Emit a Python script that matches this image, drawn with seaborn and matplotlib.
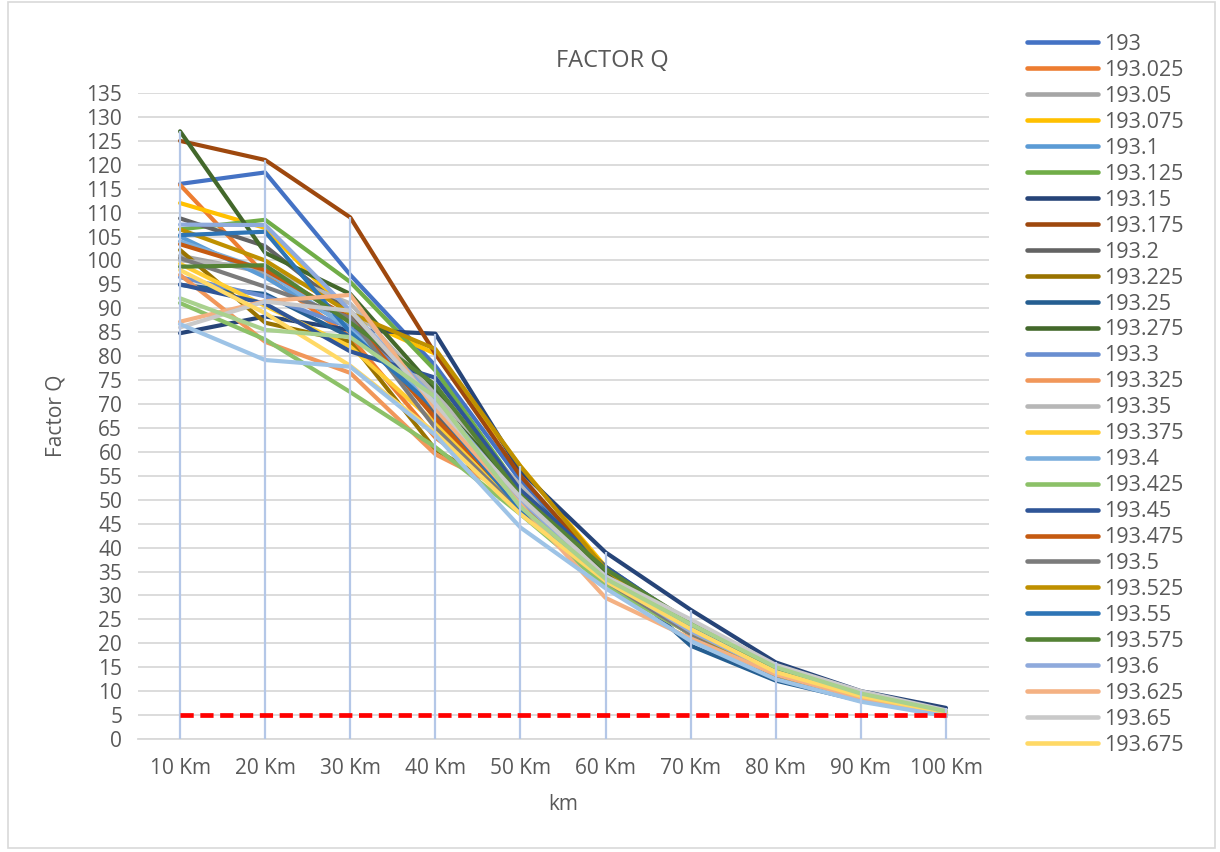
import matplotlib
matplotlib.use("Agg")
import matplotlib.pyplot as plt
import pandas as pd
import seaborn as sns
from matplotlib.lines import Line2D
from matplotlib.patches import Rectangle

# Distance categories (km) and their axis labels
distances = [10, 20, 30, 40, 50, 60, 70, 80, 90, 100]
distance_labels = ["10 Km", "20 Km", "30 Km", "40 Km", "50 Km",
                   "60 Km", "70 Km", "80 Km", "90 Km", "100 Km"]

# Factor Q per frequency channel, one value per distance
q_193_000 = [116.0, 118.4, 97.0, 78.0, 54.0, 36.0, 24.0, 14.5, 9.0, 5.5]
q_193_025 = [115.8, 97.0, 84.0, 63.0, 50.0, 34.0, 23.0, 14.0, 8.5, 5.0]
q_193_050 = [101.0, 97.5, 88.0, 70.0, 51.0, 33.5, 23.0, 14.0, 9.0, 5.3]
q_193_075 = [112.0, 106.8, 88.5, 80.5, 57.0, 36.0, 23.0, 14.0, 8.8, 5.3]
q_193_100 = [105.0, 96.5, 86.0, 68.0, 49.0, 33.0, 22.0, 13.5, 8.5, 5.0]
q_193_125 = [106.5, 108.5, 95.5, 77.0, 52.0, 34.5, 24.0, 14.5, 9.0, 5.5]
q_193_150 = [84.8, 88.3, 85.5, 84.7, 56.0, 39.0, 27.0, 16.0, 10.0, 6.5]
q_193_175 = [125.0, 121.0, 109.0, 80.5, 55.0, 35.0, 21.7, 13.0, 8.0, 5.0]
q_193_200 = [108.8, 103.0, 89.0, 68.0, 48.0, 33.0, 22.5, 13.5, 8.5, 5.2]
q_193_225 = [102.2, 87.0, 83.0, 60.5, 50.0, 34.0, 22.5, 14.0, 8.7, 5.2]
q_193_250 = [94.9, 93.0, 84.0, 73.0, 52.5, 35.5, 19.5, 12.2, 8.0, 5.0]
q_193_275 = [127.0, 101.6, 93.0, 73.0, 50.0, 35.0, 24.5, 14.5, 9.0, 5.5]
q_193_300 = [96.5, 92.5, 86.0, 71.0, 47.0, 34.0, 23.0, 14.0, 8.8, 5.3]
q_193_325 = [97.0, 83.0, 76.5, 59.5, 50.5, 32.0, 22.0, 13.5, 8.5, 5.0]
q_193_350 = [100.0, 98.5, 91.0, 72.0, 53.0, 33.0, 22.0, 13.5, 8.5, 5.2]
q_193_375 = [99.3, 90.5, 82.0, 66.0, 47.5, 33.0, 22.5, 14.0, 8.8, 5.3]
q_193_400 = [104.0, 98.0, 85.5, 70.0, 48.5, 32.5, 22.0, 13.5, 8.3, 5.0]
q_193_425 = [91.1, 83.5, 72.5, 61.0, 47.0, 32.0, 22.0, 13.5, 8.5, 5.2]
q_193_450 = [95.0, 91.0, 81.0, 75.5, 52.0, 36.0, 24.0, 14.5, 9.0, 5.5]
q_193_475 = [103.4, 98.0, 88.0, 67.0, 49.0, 33.5, 22.5, 13.5, 8.5, 5.0]
q_193_500 = [100.5, 94.5, 88.0, 65.0, 47.5, 33.0, 22.0, 13.5, 8.5, 5.2]
q_193_525 = [106.5, 100.0, 89.0, 81.5, 57.0, 35.5, 22.5, 13.5, 8.5, 5.2]
q_193_550 = [105.3, 106.0, 85.0, 69.0, 48.0, 34.0, 23.0, 14.0, 8.7, 5.3]
q_193_575 = [98.7, 99.0, 87.0, 74.0, 51.0, 35.5, 24.5, 14.5, 9.0, 5.5]
q_193_600 = [107.5, 107.4, 89.5, 71.0, 50.0, 33.5, 22.5, 14.0, 8.6, 5.2]
q_193_625 = [87.2, 91.5, 92.8, 69.0, 49.0, 29.5, 21.0, 13.5, 8.5, 4.7]
q_193_650 = [86.0, 91.4, 89.5, 70.0, 50.5, 34.0, 25.0, 15.5, 10.0, 6.0]
q_193_675 = [98.0, 89.0, 78.0, 64.0, 47.0, 33.0, 23.0, 14.0, 9.0, 5.5]
q_193_700 = [86.7, 79.2, 77.8, 63.5, 44.2, 31.5, 20.5, 12.5, 7.8, 4.8]
q_193_725 = [92.1, 85.5, 84.0, 71.5, 48.5, 33.5, 24.0, 15.0, 9.5, 5.8]

# Threshold line
q_limit = [5, 5, 5, 5, 5, 5, 5, 5, 5, 5]

channel_names = ["193", "193.025", "193.05", "193.075", "193.1", "193.125",
                 "193.15", "193.175", "193.2", "193.225", "193.25", "193.275",
                 "193.3", "193.325", "193.35", "193.375", "193.4", "193.425",
                 "193.45", "193.475", "193.5", "193.525", "193.55", "193.575",
                 "193.6", "193.625", "193.65", "193.675", "193.7", "193.725"]
channel_values = [q_193_000, q_193_025, q_193_050, q_193_075, q_193_100, q_193_125,
                  q_193_150, q_193_175, q_193_200, q_193_225, q_193_250, q_193_275,
                  q_193_300, q_193_325, q_193_350, q_193_375, q_193_400, q_193_425,
                  q_193_450, q_193_475, q_193_500, q_193_525, q_193_550, q_193_575,
                  q_193_600, q_193_625, q_193_650, q_193_675, q_193_700, q_193_725]
channel_colors = ["#4472C4", "#ED7D31", "#A5A5A5", "#FFC000", "#5B9BD5", "#70AD47",
                  "#264478", "#9E480E", "#636363", "#997300", "#255E91", "#43682B",
                  "#698ED0", "#F1975A", "#B7B7B7", "#FFCD33", "#7CAFDD", "#8CC168",
                  "#2F5597", "#C55A11", "#7B7B7B", "#BF9000", "#2E75B6", "#548235",
                  "#8FAADC", "#F4B183", "#C9C9C9", "#FFD966", "#9DC3E6", "#A9D18E"]
legend_count = 28

rows = []
for name, vals in zip(channel_names, channel_values):
    for d, v in zip(distances, vals):
        rows.append({"channel": name, "km": d, "q": v})
df = pd.DataFrame(rows)
limit_df = pd.DataFrame({"km": distances, "q": q_limit})

sns.set_theme(style="white")
plt.rcParams["font.family"] = ["Open Sans", "DejaVu Sans"]
text_color = "#595959"

fig = plt.figure(figsize=(12.2, 8.52), dpi=100)
ax = fig.add_axes([137.5 / 1220, 1 - 739 / 852, 851 / 1220, 646 / 852])

sns.lineplot(data=df, x="km", y="q", hue="channel", hue_order=channel_names,
             palette=channel_colors, linewidth=3.0, sort=False, legend=False,
             ax=ax, zorder=3)

# Drop lines from the highest value at each distance down to the axis
col_max = df.groupby("km")["q"].max()
ax.vlines(col_max.index, 0, col_max.values, colors="#B4C7E7", linewidth=1.6, zorder=4)

sns.lineplot(data=limit_df, x="km", y="q", color="#FF0000", linewidth=3.4,
             dashes=False, ax=ax, zorder=5)
ax.lines[-1].set_dashes((2.8, 1.4))

ax.set_xlim(5, 105)
ax.set_ylim(0, 135)
ax.set_xticks(distances)
ax.set_xticklabels(distance_labels)
ax.set_yticks(range(0, 136, 5))
ax.yaxis.grid(True, color="#D9D9D9", linewidth=1.3, zorder=0)
ax.xaxis.grid(False)
ax.set_axisbelow(True)
for s in ["top", "right", "left"]:
    ax.spines[s].set_visible(False)
ax.spines["bottom"].set_color("#D9D9D9")
ax.spines["bottom"].set_linewidth(1.3)
ax.tick_params(axis="both", length=0, labelsize=15, labelcolor=text_color)
ax.tick_params(axis="y", pad=11)
ax.tick_params(axis="x", pad=14)

ax.set_xlabel("km", fontsize=15, color=text_color)
ax.set_ylabel("Factor Q", fontsize=15, color=text_color)
ax.xaxis.set_label_coords(0.5, -0.085)
ax.yaxis.set_label_coords(-0.083, 0.5)

fig.text(612 / 1220, 1 - 61 / 852, "FACTOR Q", ha="center", va="center",
         fontsize=17, color=text_color)

handles = [Line2D([0], [0], color=c, linewidth=3.3, solid_capstyle="round")
           for c in channel_colors[:legend_count]]
leg = fig.legend(handles, channel_names[:legend_count], loc="upper left",
                 bbox_to_anchor=(1027 / 1220, 1 - 34 / 852), frameon=False,
                 fontsize=15.5, labelcolor=text_color, handlelength=3.3,
                 handletextpad=0.3, labelspacing=0.23, borderaxespad=0,
                 borderpad=0)

fig.patches.append(Rectangle((8 / 1220, 4 / 852), 1207 / 1220, 846 / 852,
                             transform=fig.transFigure, fill=False,
                             edgecolor="#D9D9D9", linewidth=1.2))

fig.savefig("out.png", dpi=100)
